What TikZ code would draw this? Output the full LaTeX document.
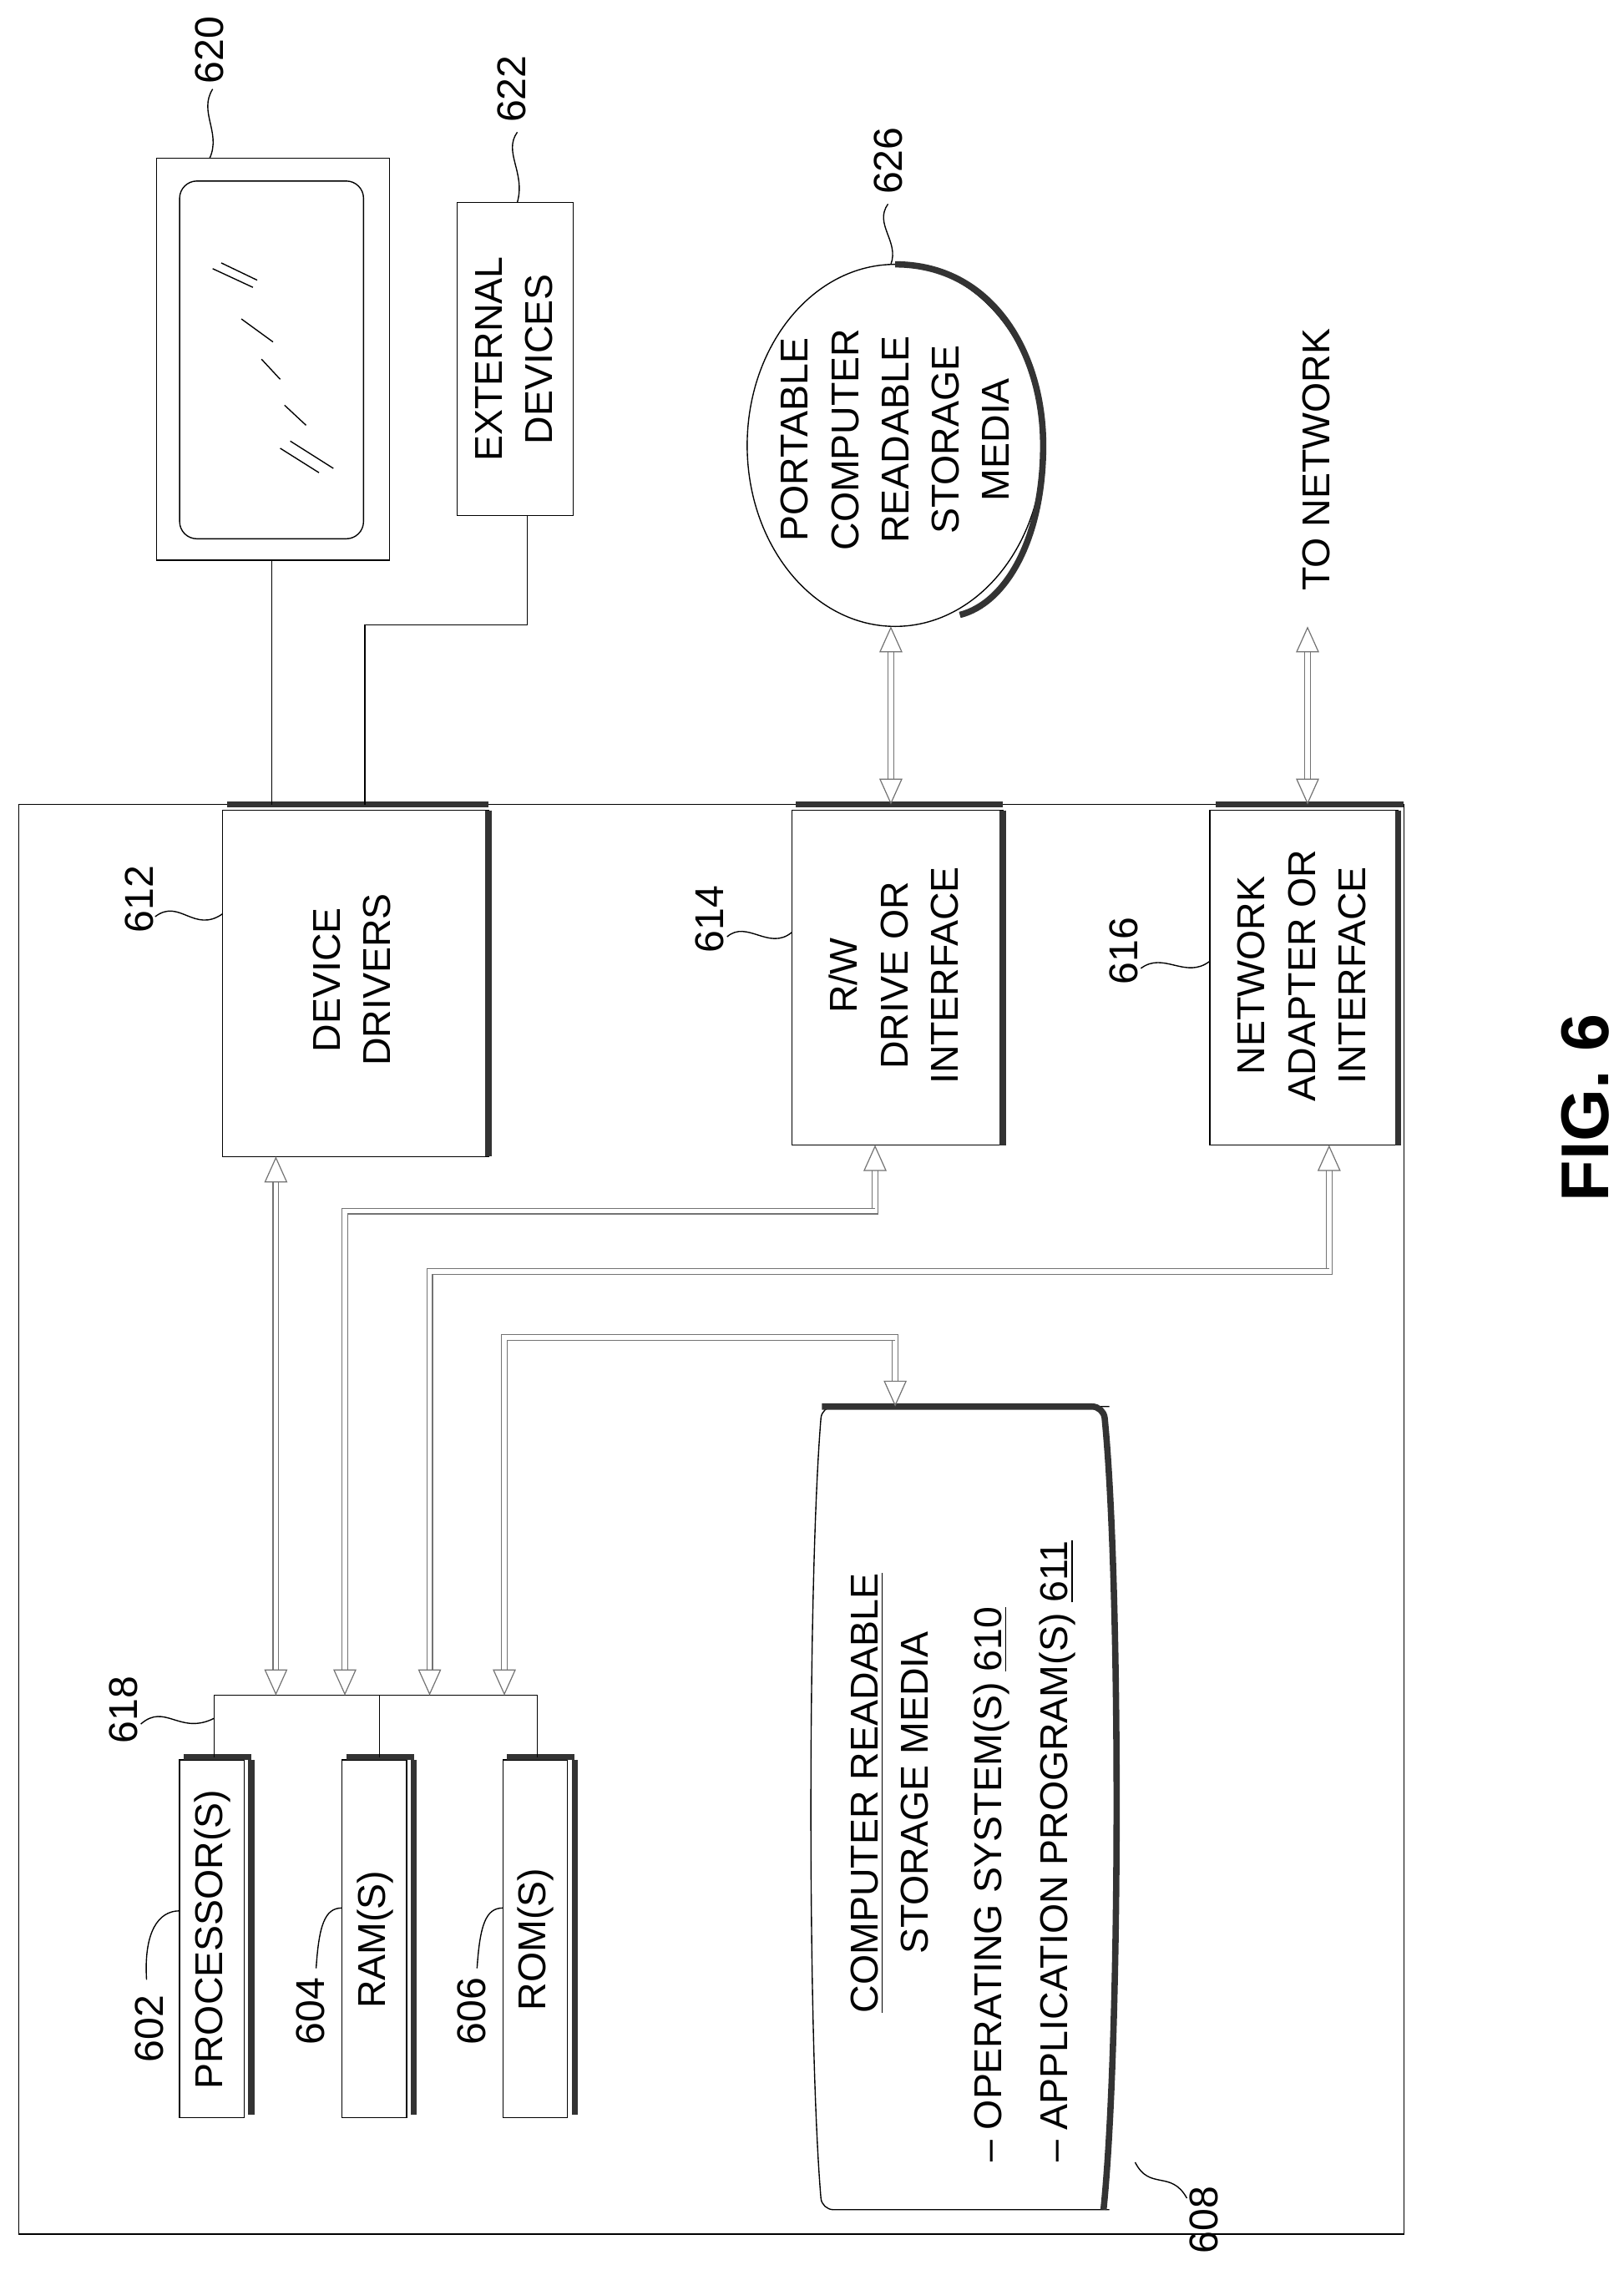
\documentclass[tikz,border=0pt]{standalone}
\usepackage{fontspec}
\setmainfont{Liberation Sans}
\usetikzlibrary{arrows.meta}

\tikzset{
  box/.style={draw, thin, inner sep=0pt},
  txt/.style={rotate=90, align=center, font=\fontsize{13.5}{17.5}\selectfont},
  num/.style={rotate=90, font=\fontsize{14}{17}\selectfont},
  shade/.style={line width=2.2pt, black!80},
  lead/.style={thin},
  bus/.style={draw=black!55, double=white, double distance=1.6pt, line width=0.35pt},
  tip/.style={-{Triangle[open, length=9pt, width=8pt]}},
  tips/.style={{Triangle[open, length=9pt, width=8pt]}-{Triangle[open, length=9pt, width=8pt]}}
}

\begin{document}
\begin{tikzpicture}[x=0.5pt, y=-0.5pt]
  \useasboundingbox (0,0) rectangle (1130,1580);

  % outer computer box
  \draw[box] (13,560) rectangle (977,1555);
  \draw[shade] (158,560) -- (340,560);
  \draw[shade] (554,560) -- (698,560);
  \draw[shade] (846,560) -- (977,560);

  % monitor 620
  \draw[box] (109,110) rectangle (271,390);
  \draw[box, rounded corners=6pt] (125,126) rectangle (253,375);
  \draw (148,187) -- (176,200);
  \draw (154,183) -- (179,195);
  \draw (168,222) -- (190,238);
  \draw (182,250) -- (195,264);
  \draw (198,282) -- (213,296);
  \draw (195,312) -- (222,329);
  \draw (202,307) -- (232,326);
  \node[num] (n620) at (146,35) {620};
  \draw[lead] (148,62) .. controls (138,78) and (154,92) .. (146,110);

  % external devices 622
  \draw[box] (318,141) rectangle (399,359);
  \node[txt] (ext) at (358,250) {EXTERNAL\\DEVICES};
  \node[num] (n622) at (356,62) {622};
  \draw[lead] (360,92) .. controls (350,106) and (366,120) .. (360,141);

  % portable media 626
  \draw[thin] (623,310) ellipse (103 and 126);
  \draw[shade] (623,184) .. controls (690,184) and (726,245) .. (726,310)
     .. controls (726,375) and (700,420) .. (668,428);
  \node[txt] (port) at (623,306)
     {PORTABLE\\COMPUTER\\READABLE\\STORAGE\\MEDIA};
  \node[num] (n626) at (618,112) {626};
  \draw[lead] (618,142) .. controls (608,156) and (626,168) .. (620,184);

  % to network
  \node[txt] (net) at (916,320) {TO NETWORK};

  % device drivers 612
  \draw[box] (155,564) rectangle (340,805);
  \draw[shade] (340,564) -- (340,805);
  \node[txt] (dd) at (245,682) {DEVICE\\DRIVERS};
  \node[num] (n612) at (97,626) {612};
  \draw[lead] (108,638) .. controls (125,625) and (135,650) .. (155,636);

  % r/w drive 614
  \draw[box] (551,564) rectangle (698,797);
  \draw[shade] (698,564) -- (698,797);
  \node[txt] (rw) at (622,679) {R/W\\DRIVE OR\\INTERFACE};
  \node[num] (n614) at (494,640) {614};
  \draw[lead] (506,652) .. controls (520,640) and (535,662) .. (551,649);

  % network adapter 616
  \draw[box] (842,564) rectangle (973,797);
  \draw[shade] (973,564) -- (973,797);
  \node[txt] (na) at (906,679) {NETWORK\\ADAPTER OR\\INTERFACE};
  \node[num] (n616) at (782,662) {616};
  \draw[lead] (794,674) .. controls (810,662) and (825,682) .. (842,669);

  % processor, ram, rom
  \draw[box] (125,1225) rectangle (170,1474);
  \draw[shade] (175,1225) -- (175,1472);
  \draw[shade] (128,1223) -- (175,1223);
  \node[txt] (proc) at (148,1350) {PROCESSOR(S)};
  \draw[box] (238,1225) rectangle (283,1474);
  \draw[shade] (288,1225) -- (288,1472);
  \draw[shade] (241,1223) -- (288,1223);
  \node[txt] (ram) at (261,1350) {RAM(S)};
  \draw[box] (350,1225) rectangle (395,1474);
  \draw[shade] (400,1225) -- (400,1472);
  \draw[shade] (353,1223) -- (400,1223);
  \node[txt] (rom) at (373,1350) {ROM(S)};
  \node[num] (n602) at (104,1412) {602};
  \draw[lead] (102,1378) .. controls (100,1345) and (110,1330) .. (125,1330);
  \node[num] (n604) at (216,1400) {604};
  \draw[lead] (220,1370) .. controls (222,1340) and (226,1328) .. (238,1328);
  \node[num] (n606) at (328,1400) {606};
  \draw[lead] (332,1370) .. controls (334,1340) and (338,1328) .. (350,1328);

  % bus 618
  \coordinate (b2) at (192,1180);
  \coordinate (b3) at (240,1180);
  \coordinate (b4) at (299,1180);
  \coordinate (b5) at (351,1180);
  \draw (149,1223) -- (149,1180) -- (374,1180) -- (374,1223);
  \draw (264,1180) -- (264,1223);
  \node[num] (n618) at (86,1190) {618};
  \draw[lead] (98,1200) .. controls (115,1185) and (125,1208) .. (149,1196);

  % storage media 608
  \draw[rounded corners=4pt] (772,979) -- (572,979)
     .. controls (562,1100) and (562,1420) .. (572,1538) -- (772,1538);
  \draw[shade, rounded corners=4pt] (572,979) -- (768,979)
     .. controls (780,1100) and (780,1420) .. (768,1538);
  \node[txt] (crst) at (619,1248) {\underline{COMPUTER READABLE}\\STORAGE MEDIA};
  \node[num, font=\fontsize{13.5}{17}\selectfont, anchor=west] (os) at (690,1512) {-- OPERATING SYSTEM(S) \underline{610}};
  \node[num, font=\fontsize{13.5}{17}\selectfont, anchor=west] (ap) at (736,1512) {-- APPLICATION PROGRAM(S) \underline{611}};
  \node[num] (n608) at (838,1545) {608};
  \draw[lead] (790,1505) .. controls (800,1525) and (815,1510) .. (826,1530);

  % connections
  \draw (189,390) -- (189,560);
  \draw (367,359) -- (367,435) -- (254,435) -- (254,560);
  \draw[bus, tips] (620,436) -- (620,560);
  \draw[bus, tips] (910,436) -- (910,560);
  \draw[bus, tips] (192,805) -- (b2);
  \draw[bus, tip] (240,1160) -- (240,843) -- (609,843) -- (609,797);
  \draw[bus, tip] (609,843) -- (240,843) -- (b3);
  \draw[bus, tip] (299,1160) -- (299,885) -- (925,885) -- (925,797);
  \draw[bus, tip] (925,885) -- (299,885) -- (b4);
  \draw[bus, tip] (351,1160) -- (351,931) -- (623,931) -- (623,979);
  \draw[bus, tip] (623,931) -- (351,931) -- (b5);

  \node[rotate=90, font=\bfseries\fontsize{23.5}{28}\selectfont] (fig) at (1103,771) {FIG. 6};
\end{tikzpicture}
\end{document}
